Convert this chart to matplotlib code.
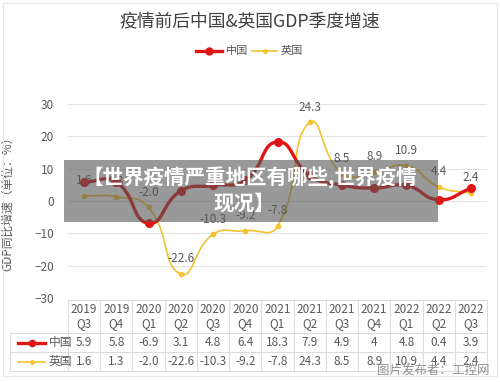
import numpy as np
import matplotlib
matplotlib.use("Agg")
from matplotlib import pyplot as plt
from matplotlib.path import Path
from matplotlib.patches import PathPatch, Rectangle
from matplotlib.lines import Line2D

plt.rcParams['font.family'] = ['Noto Sans CJK SC', 'DejaVu Sans']

# data
quarters = ["2019\nQ3", "2019\nQ4", "2020\nQ1", "2020\nQ2", "2020\nQ3", "2020\nQ4", "2021\nQ1",
            "2021\nQ2", "2021\nQ3", "2021\nQ4", "2022\nQ1", "2022\nQ2", "2022\nQ3"]
china = [5.9, 5.8, -6.9, 3.1, 4.8, 6.4, 18.3, 7.9, 4.9, 4, 4.8, 0.4, 3.9]
uk = [1.6, 1.3, -2.0, -22.6, -10.3, -9.2, -7.8, 24.3, 8.5, 8.9, 10.9, 4.4, 2.4]
china_txt = ["5.9", "5.8", "-6.9", "3.1", "4.8", "6.4", "18.3", "7.9", "4.9", "4", "4.8", "0.4", "3.9"]
uk_txt = ["1.6", "1.3", "-2.0", "-22.6", "-10.3", "-9.2", "-7.8", "24.3", "8.5", "8.9", "10.9", "4.4", "2.4"]
yticks = [-30, -20, -10, 0, 10, 20, 30]

RED = '#e01515'
YEL = '#f2c230'
TXT = '#595959'


def smooth_path(xs, ys, sx, sy, smooth=0.5):
    # echarts-like bezier smoothing, computed in pixel space
    p = np.column_stack([np.asarray(xs, float) * sx, np.asarray(ys, float) * sy])
    n = len(p)
    cp0 = np.zeros_like(p)
    cp1 = np.zeros_like(p)
    for i in range(n):
        prev = p[i - 1] if i > 0 else p[i]
        nxt = p[i + 1] if i < n - 1 else p[i]
        v = (nxt - prev) * smooth
        d0 = np.hypot(*(p[i] - prev))
        d1 = np.hypot(*(p[i] - nxt))
        s = d0 + d1
        if s:
            d0, d1 = d0 / s, d1 / s
        cp0[i] = p[i] - v * d0
        cp1[i] = p[i] + v * d1
    verts = [p[0]]
    codes = [Path.MOVETO]
    for i in range(n - 1):
        verts += [cp1[i], cp0[i + 1], p[i + 1]]
        codes += [Path.CURVE4] * 3
    verts = np.array(verts) / [sx, sy]
    return Path(verts, codes)


fig = plt.figure(figsize=(5, 3.82), dpi=100)
fig.patch.set_facecolor('white')

# card border
fig.add_artist(Rectangle((3 / 500, 6 / 382), 494 / 500, 373 / 382, transform=fig.transFigure,
                         fill=False, edgecolor='#e8e8e8', lw=0.8))

ax = fig.add_axes([68 / 500, 84 / 382, 419 / 500, 194 / 382])
x = np.arange(len(quarters))
ax.set_xlim(-0.5, len(quarters) - 0.5)
ax.set_ylim(-30, 30)
ax.set_yticks(yticks)
ax.set_xticks([])
ax.tick_params(axis='y', length=0, labelsize=8.5, labelcolor=TXT, pad=10)
for s in ax.spines.values():
    s.set_visible(False)
for t in yticks:
    ax.axhline(t, color='#e3e3e3', lw=0.8, zorder=0)

sx, sy = 32.2, 3.24
ax.add_patch(PathPatch(smooth_path(x, uk, sx, sy), fill=False, edgecolor=YEL, lw=1.2, zorder=2))
ax.plot(x, uk, 'o', color=YEL, ms=3, zorder=3)
for xi, v, t in zip(x, uk, uk_txt):
    ax.annotate(t, (xi, v), xytext=(0, 11), textcoords='offset points', ha='center', va='center',
                fontsize=8.5, color=TXT, zorder=2.5)
ax.add_patch(PathPatch(smooth_path(x, china, sx, sy), fill=False, edgecolor=RED, lw=2.4, zorder=4))
ax.plot(x, china, 'o', color=RED, ms=5.5, zorder=5)

ax.set_ylabel("GDP同比增速（单位：%）", fontsize=8.5, color=TXT)
ax.yaxis.set_label_coords(-54 / 419, 0.5)

# title and legend
fig.text(0.5, 1 - 22 / 382, "疫情前后中国&英国GDP季度增速", ha='center', va='center', fontsize=12.8, color='#404040')
fig.add_artist(Line2D([196 / 500, 222 / 500], [1 - 51 / 382] * 2, color=RED, lw=2.4,
                      transform=fig.transFigure))
fig.add_artist(Line2D([209 / 500], [1 - 51 / 382], color=RED, marker='o', ms=5, transform=fig.transFigure))
fig.text(226 / 500, 1 - 51 / 382, "中国", ha='left', va='center', fontsize=8, color=TXT)
fig.add_artist(Line2D([252 / 500, 277 / 500], [1 - 51 / 382] * 2, color=YEL, lw=1.2, transform=fig.transFigure))
fig.add_artist(Line2D([264.5 / 500], [1 - 51 / 382], color=YEL, marker='o', ms=2.5, transform=fig.transFigure))
fig.text(281 / 500, 1 - 51 / 382, "英国", ha='left', va='center', fontsize=8, color=TXT)

# data table
tb = fig.add_axes([68 / 500, 11 / 382, 419 / 500, 71 / 382], sharex=ax)
tb.set_ylim(0, 71)
tb.axis('off')
grid = dict(color='#dcdcdc', lw=0.8, clip_on=False)
left = -0.5 - 58 / 32.2
for yy in [71, 38, 19, 0]:
    x0 = -0.5 if yy == 71 else left
    tb.plot([x0, 12.5], [yy, yy], **grid)
for xx in np.arange(-0.5, 13, 1):
    tb.plot([xx, xx], [0, 71], **grid)
tb.plot([left, left], [0, 38], **grid)
for xi, q in zip(x, quarters):
    tb.text(xi, 54.5, q, ha='center', va='center', fontsize=8.5, color=TXT, linespacing=1.15)
for xi, a, b in zip(x, china_txt, uk_txt):
    tb.text(xi, 28.5, a, ha='center', va='center', fontsize=8.5, color=TXT)
    tb.text(xi, 9.5, b, ha='center', va='center', fontsize=8.5, color=TXT)
tb.plot([left + 0.25, left + 1.1], [28.5, 28.5], color=RED, lw=2.4, clip_on=False)
tb.plot([left + 0.675], [28.5], 'o', color=RED, ms=4.5, clip_on=False)
tb.text(left + 1.2, 28.5, "中国", ha='left', va='center', fontsize=8.5, color=TXT)
tb.plot([left + 0.25, left + 1.1], [9.5, 9.5], color=YEL, lw=1.2, clip_on=False)
tb.plot([left + 0.675], [9.5], 'o', color=YEL, ms=2.5, clip_on=False)
tb.text(left + 1.2, 9.5, "英国", ha='left', va='center', fontsize=8.5, color=TXT)

# overlay banner and watermark
fig.add_artist(Rectangle((64 / 500, 1 - 222 / 382), 374 / 500, 62 / 382, transform=fig.transFigure,
                         facecolor='#555555', alpha=0.6, edgecolor='none', zorder=10))
fig.text(250 / 500, 1 - 178 / 382, "【世界疫情严重地区有哪些,世界疫情", ha='center', va='center',
         fontsize=14.8, color='white', fontweight='heavy', zorder=11)
fig.text(244 / 500, 1 - 203 / 382, "现况】", ha='center', va='center',
         fontsize=14.8, color='white', fontweight='heavy', zorder=11)
fig.text(490 / 500, 1 - 370 / 382, "图片发布者：工控网", ha='right', va='center',
         fontsize=9, color='#888888', alpha=0.9, zorder=11)

fig.savefig('out.png', dpi=100)
